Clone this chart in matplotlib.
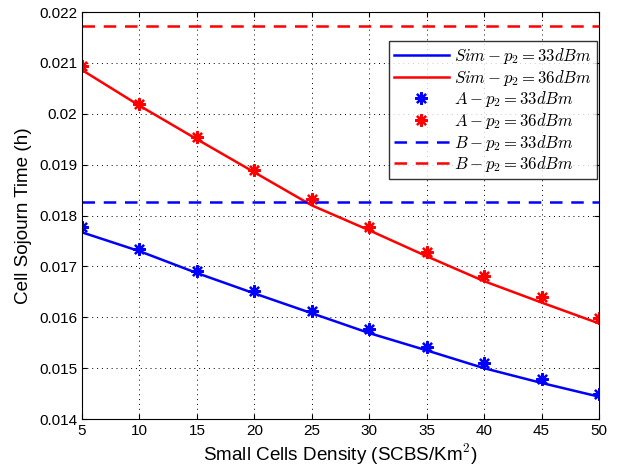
import matplotlib
matplotlib.use("Agg")
import matplotlib.pyplot as plt

plt.rcParams["font.family"] = ["Liberation Sans", "DejaVu Sans"]
plt.rcParams["mathtext.fontset"] = "cm"

density = [5, 10, 15, 20, 25, 30, 35, 40, 45, 50]

sim_33 = [0.01767, 0.01730, 0.01687, 0.01647, 0.01608, 0.01569, 0.01535, 0.01500, 0.01471, 0.01444]
sim_36 = [0.02086, 0.02016, 0.01950, 0.01885, 0.01820, 0.01771, 0.01720, 0.01671, 0.01629, 0.01588]
ana_33 = [0.01778, 0.01734, 0.01691, 0.01651, 0.01613, 0.01577, 0.01542, 0.01510, 0.01479, 0.01450]
ana_36 = [0.02093, 0.02020, 0.01954, 0.01890, 0.01833, 0.01778, 0.01729, 0.01682, 0.01640, 0.01599]
bound_33 = 0.01827
bound_36 = 0.02173

y_ticks = [0.014, 0.015, 0.016, 0.017, 0.018, 0.019, 0.02, 0.021, 0.022]

fig = plt.figure(figsize=(6.24, 4.73), dpi=100)
ax = fig.add_axes([0.1314, 0.114, 0.8286, 0.8606])

asterisk = (8, 2, 0)
ax.plot(density, sim_33, color="blue", lw=1.8, label=r"$Sim-p_2=33dBm$")
ax.plot(density, sim_36, color="red", lw=1.8, label=r"$Sim-p_2=36dBm$")
ax.plot(density, ana_33, ls="none", marker=asterisk, color="blue", ms=9, mew=1.6,
        label=r"$A-p_2=33dBm$")
ax.plot(density, ana_36, ls="none", marker=asterisk, color="red", ms=9, mew=1.6,
        label=r"$A-p_2=36dBm$")
ax.axhline(bound_33, color="blue", ls=(0, (5, 3.5)), lw=1.8, label=r"$B-p_2=33dBm$")
ax.axhline(bound_36, color="red", ls=(0, (5, 3.5)), lw=1.8, label=r"$B-p_2=36dBm$")

ax.set_xlim(5, 50)
ax.set_ylim(0.014, 0.022)
ax.set_xticks(range(5, 51, 5))
ax.set_yticks(y_ticks)
ax.set_yticklabels([f"{v:g}" for v in y_ticks])
ax.tick_params(direction="in", top=True, right=True, labelsize=11)
ax.grid(True, color="black", ls=(0, (1, 4)), lw=0.7)
ax.set_xlabel(r"Small Cells Density (SCBS/Km$^2$)", fontsize=13.6, labelpad=3)
ax.set_ylabel("Cell Sojourn Time (h)", fontsize=13.6, labelpad=5)

leg = ax.legend(loc="upper right", bbox_to_anchor=(0.996, 0.929), fontsize=12,
                fancybox=False, edgecolor="black", handlelength=3.3,
                borderaxespad=0, labelspacing=0.1, borderpad=0.3,
                handletextpad=0.35)
leg.get_frame().set_linewidth(1.0)

fig.savefig("out.png", dpi=100)
